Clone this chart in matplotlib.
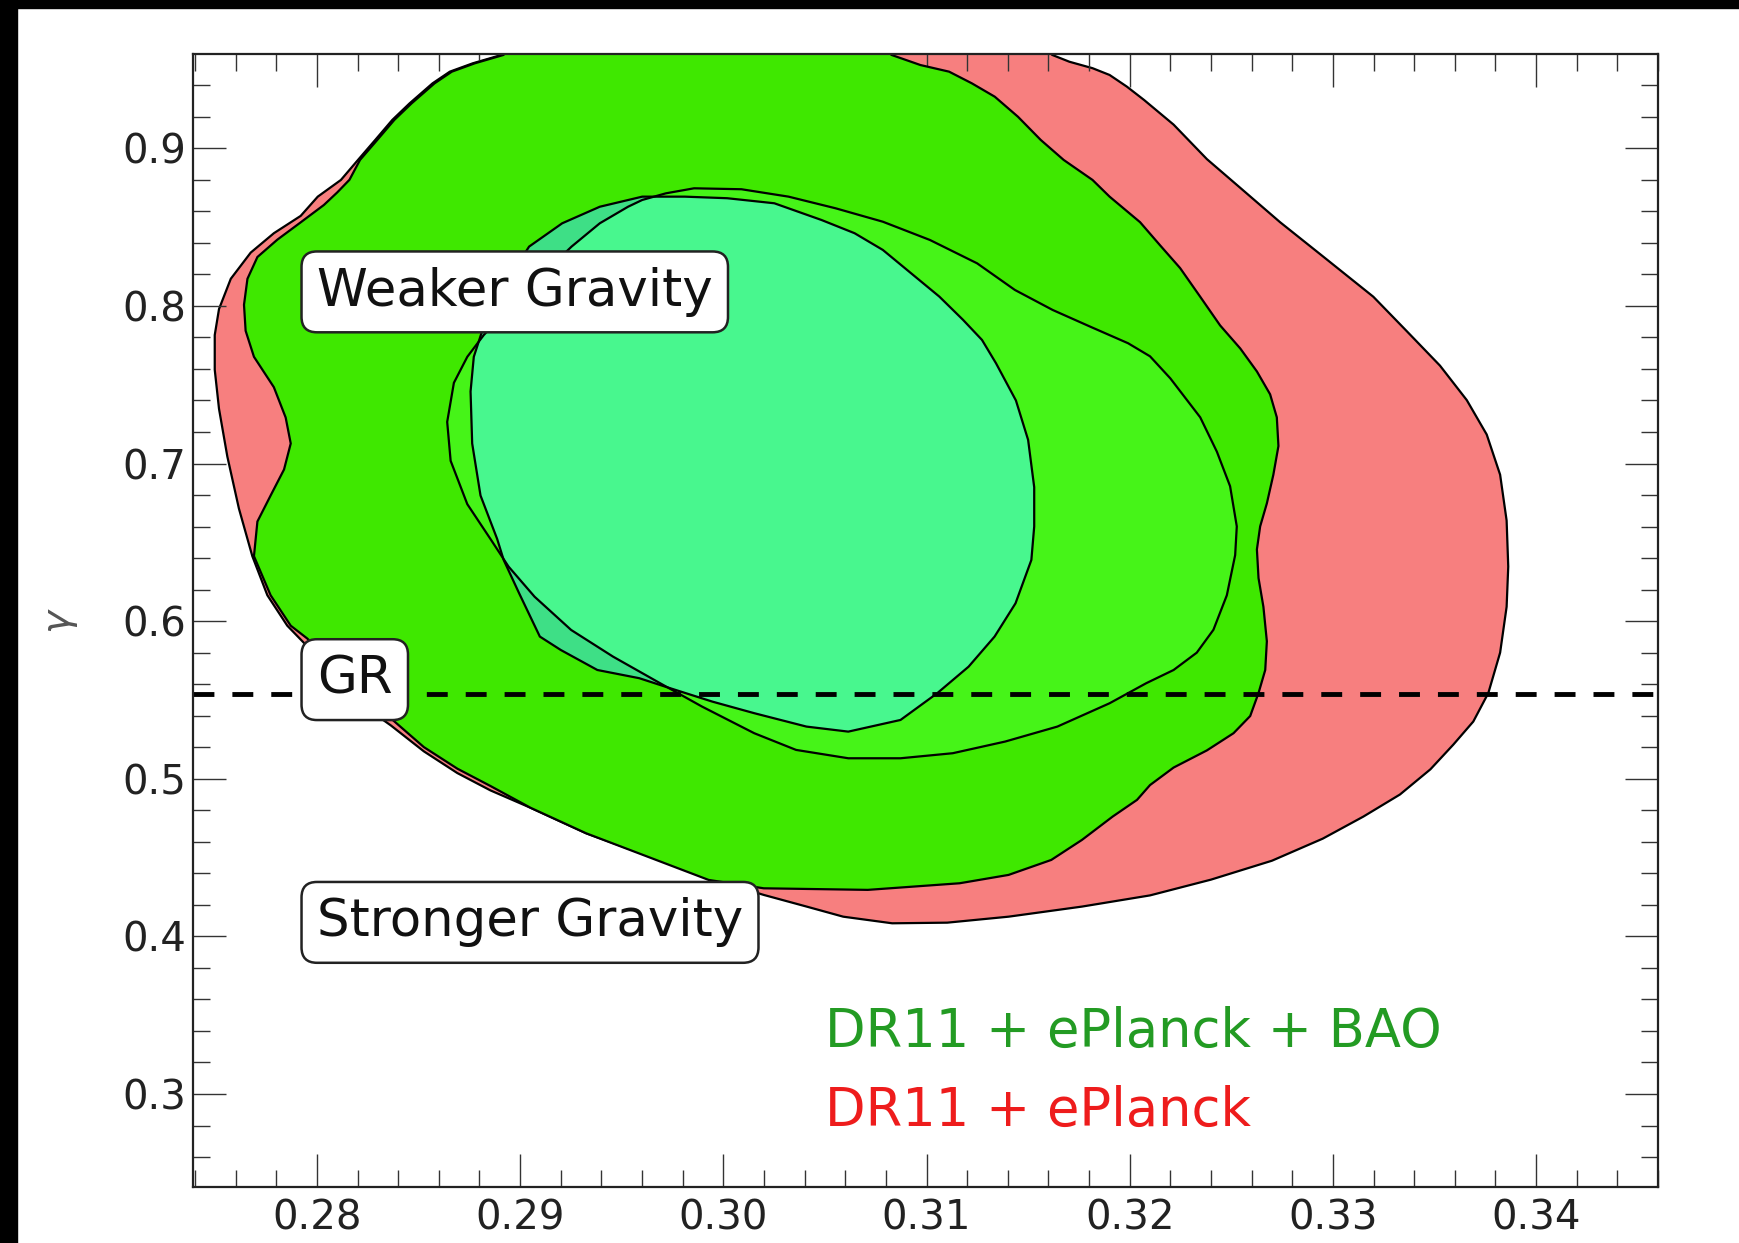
import matplotlib
matplotlib.use("Agg")
import matplotlib.pyplot as plt
from matplotlib.patches import Polygon, Rectangle
from matplotlib.ticker import MultipleLocator

# ---------------- data ----------------
# DR11 + ePlanck, 95% region (outer red)
red_outer_x = [0.2895, 0.3162, 0.31619, 0.31703, 0.31817, 0.31901, 0.31986, 0.32071, 0.32216,
               0.32380, 0.32544, 0.32740, 0.32953, 0.33199, 0.33364, 0.33527, 0.33659, 0.33757,
               0.33823, 0.33855, 0.33863, 0.33855, 0.33823, 0.33765, 0.33691, 0.33593, 0.33480,
               0.33330, 0.33150, 0.32950, 0.32700, 0.32400, 0.32100, 0.31765, 0.31404, 0.31102,
               0.30831, 0.30590, 0.30410, 0.30199, 0.29950, 0.29325, 0.29051, 0.28854, 0.28691,
               0.28526, 0.28363, 0.28273, 0.28100, 0.27936, 0.27854, 0.27756, 0.27682, 0.27616,
               0.27559, 0.27518, 0.27497, 0.27497, 0.27518, 0.27576, 0.27674, 0.27788, 0.27920,
               0.28004, 0.28118, 0.28202, 0.28287, 0.28371, 0.28456, 0.28569, 0.28654, 0.28767,
               0.28908]
red_outer_y = [0.980, 0.980, 0.9592, 0.9549, 0.9508, 0.9465, 0.9391, 0.9306, 0.9150,
               0.8931, 0.8749, 0.8531, 0.8312, 0.8058, 0.7839, 0.7621, 0.7402, 0.7184,
               0.6929, 0.6638, 0.6346, 0.6091, 0.5800, 0.5544, 0.5363, 0.5217, 0.5060,
               0.4900, 0.4760, 0.4620, 0.4480, 0.4360, 0.4260, 0.4189, 0.4125, 0.4087,
               0.4083, 0.4125, 0.4189, 0.4263, 0.4360, 0.4654, 0.4816, 0.4926, 0.5036,
               0.5174, 0.5339, 0.5421, 0.5620, 0.5862, 0.5971, 0.6164, 0.6412, 0.6714,
               0.7044, 0.7347, 0.7595, 0.7815, 0.7980, 0.8172, 0.8338, 0.8461, 0.8571,
               0.8693, 0.8799, 0.8926, 0.9053, 0.9180, 0.9285, 0.9412, 0.9486, 0.9539,
               0.9592]

# DR11 + ePlanck + BAO, 95% region (outer green)
green_outer_x = [0.2895, 0.3083, 0.30828, 0.30970, 0.31111, 0.31223, 0.31336, 0.31450, 0.31562,
                 0.31675, 0.31817, 0.31901, 0.32051, 0.32149, 0.32248, 0.32347, 0.32445, 0.32544,
                 0.32626, 0.32691, 0.32724, 0.32732, 0.32707, 0.32675, 0.32642, 0.32626, 0.32634,
                 0.32658, 0.32675, 0.32667, 0.32634, 0.32593, 0.32511, 0.32380, 0.32216, 0.32100,
                 0.32036, 0.31916, 0.31765, 0.31614, 0.31404, 0.31163, 0.30711, 0.30199, 0.29928,
                 0.29325, 0.29051, 0.28854, 0.28691, 0.28526, 0.28330, 0.28130, 0.27953, 0.27871,
                 0.27772, 0.27690, 0.27707, 0.27772, 0.27838, 0.27871, 0.27846, 0.27788, 0.27690,
                 0.27649, 0.27641, 0.27658, 0.27707, 0.27805, 0.27920, 0.28034, 0.28100, 0.28160,
                 0.28212, 0.28297, 0.28381, 0.28466, 0.28579, 0.28664, 0.28777, 0.28918]
green_outer_y = [0.980, 0.980, 0.9592, 0.9528, 0.9486, 0.9412, 0.9327, 0.9200, 0.9053,
                 0.8926, 0.8799, 0.8693, 0.8531, 0.8385, 0.8240, 0.8058, 0.7876, 0.7730,
                 0.7584, 0.7439, 0.7293, 0.7111, 0.6929, 0.6747, 0.6601, 0.6455, 0.6273,
                 0.6091, 0.5872, 0.5690, 0.5544, 0.5398, 0.5289, 0.5180, 0.5071, 0.4960,
                 0.4866, 0.4760, 0.4612, 0.4485, 0.4390, 0.4337, 0.4295, 0.4305, 0.4358,
                 0.4654, 0.4816, 0.4954, 0.5064, 0.5201, 0.5421, 0.5660, 0.5889, 0.5971,
                 0.6164, 0.6412, 0.6632, 0.6797, 0.6962, 0.7127, 0.7292, 0.7484, 0.7677,
                 0.7842, 0.8007, 0.8172, 0.8310, 0.8420, 0.8530, 0.8640, 0.8720, 0.8800,
                 0.8926, 0.9053, 0.9180, 0.9285, 0.9412, 0.9486, 0.9539, 0.9592]

# DR11 + ePlanck, 68% region (tilted inner contour)
red_inner_x = [0.29253, 0.29392, 0.29531, 0.29601, 0.29717, 0.29856, 0.30089, 0.30321, 0.30553,
               0.30785, 0.31017, 0.31249, 0.31435, 0.31621, 0.31806, 0.31992, 0.32100, 0.32200,
               0.32347, 0.32429, 0.32494, 0.32527, 0.32519, 0.32478, 0.32412, 0.32330, 0.32216,
               0.32081, 0.31901, 0.31644, 0.31387, 0.31129, 0.30872, 0.30615, 0.30358, 0.30152,
               0.29895, 0.29689, 0.29457, 0.29251, 0.29071, 0.28943, 0.28854, 0.28740, 0.28658,
               0.28641, 0.28674, 0.28740, 0.28821, 0.29030]
red_inner_y = [0.8376, 0.8524, 0.8629, 0.8672, 0.8714, 0.8746, 0.8740, 0.8693, 0.8619,
               0.8534, 0.8418, 0.8270, 0.8101, 0.7974, 0.7868, 0.7763, 0.7680, 0.7540,
               0.7293, 0.7075, 0.6856, 0.6601, 0.6419, 0.6164, 0.5945, 0.5800, 0.5690,
               0.5606, 0.5479, 0.5331, 0.5236, 0.5162, 0.5130, 0.5130, 0.5183, 0.5289,
               0.5458, 0.5606, 0.5775, 0.5944, 0.6155, 0.6346, 0.6521, 0.6742, 0.7017,
               0.7264, 0.7512, 0.7677, 0.7815, 0.8100]

# DR11 + ePlanck + BAO, 68% region (inner cyan-green)
green_inner_x = [0.29044, 0.29207, 0.29392, 0.29601, 0.29810, 0.30019, 0.30251, 0.30483, 0.30646,
                 0.30785, 0.30924, 0.31063, 0.31180, 0.31273, 0.31342, 0.31440, 0.31500, 0.31530,
                 0.31530, 0.31516, 0.31438, 0.31335, 0.31207, 0.31053, 0.30872, 0.30615, 0.30409,
                 0.30152, 0.29947, 0.29715, 0.29586, 0.29380, 0.29200, 0.29097, 0.28995, 0.28919,
                 0.28887, 0.28805, 0.28764, 0.28756, 0.28772, 0.28845, 0.28983]
green_inner_y = [0.8376, 0.8524, 0.8629, 0.8693, 0.8693, 0.8683, 0.8651, 0.8545, 0.8461,
                 0.8355, 0.8207, 0.8059, 0.7911, 0.7784, 0.7636, 0.7400, 0.7150, 0.6850,
                 0.6600, 0.6388, 0.6113, 0.5902, 0.5711, 0.5543, 0.5373, 0.5299, 0.5331,
                 0.5416, 0.5489, 0.5584, 0.5638, 0.5690, 0.5817, 0.5902, 0.6177, 0.6388,
                 0.6521, 0.6797, 0.7127, 0.7457, 0.7677, 0.7968, 0.8253]

gr_gamma = 0.554
x_ticks = [0.28, 0.29, 0.30, 0.31, 0.32, 0.33, 0.34]
x_tick_labels = ["0.28", "0.29", "0.30", "0.31", "0.32", "0.33", "0.34"]
y_ticks = [0.3, 0.4, 0.5, 0.6, 0.7, 0.8, 0.9]
y_tick_labels = ["0.3", "0.4", "0.5", "0.6", "0.7", "0.8", "0.9"]
annotations = [("Weaker Gravity", 0.28, 0.80), ("GR", 0.28, 0.554), ("Stronger Gravity", 0.28, 0.40)]
legend_entries = [("DR11 + ePlanck + BAO", 0.305, 0.33, "#239B23"),
                  ("DR11 + ePlanck", 0.305, 0.28, "#EE1C1C")]

# ---------------- figure ----------------
W, H = 1740, 1243
fig = plt.figure(figsize=(W / 100, H / 100), dpi=100, facecolor="white")
# black frame strips of the screenshot (top and left)
fig.patches.append(Rectangle((0, 1 - 8 / H), 1, 8 / H, transform=fig.transFigure,
                             color="black", zorder=10))
fig.patches.append(Rectangle((0, 0), 17 / W, 1, transform=fig.transFigure,
                             color="black", zorder=10))

ax = fig.add_axes([193 / W, 1 - 1187 / H, (1658 - 193) / W, (1187 - 54) / H])
ax.set_xlim(0.2739, 0.3460)
ax.set_ylim(0.241, 0.9598)

edge_lw = 1.6
red_fill = Polygon(list(zip(red_outer_x, red_outer_y)), closed=True,
                   facecolor="#F77F7F", edgecolor="black", lw=edge_lw, zorder=1)
ax.add_patch(red_fill)
green_fill = Polygon(list(zip(green_outer_x, green_outer_y)), closed=True,
                     facecolor="#3FE800", edgecolor="black", lw=edge_lw, zorder=2)
ax.add_patch(green_fill)
ell_fill = Polygon(list(zip(red_inner_x, red_inner_y)), closed=True,
                   facecolor="#46F418", edgecolor="none", zorder=3)
ax.add_patch(ell_fill)
cyan_dark = Polygon(list(zip(green_inner_x, green_inner_y)), closed=True,
                    facecolor="#3EDF86", edgecolor="none", zorder=4)
ax.add_patch(cyan_dark)
cyan_light = Polygon(list(zip(green_inner_x, green_inner_y)), closed=True,
                     facecolor="#48F78E", edgecolor="none", zorder=5)
ax.add_patch(cyan_light)
cyan_light.set_clip_path(ell_fill)
ax.add_patch(Polygon(list(zip(green_inner_x, green_inner_y)), closed=True,
                     facecolor="none", edgecolor="black", lw=edge_lw, zorder=6))
ax.add_patch(Polygon(list(zip(red_inner_x, red_inner_y)), closed=True,
                     facecolor="none", edgecolor="black", lw=edge_lw, zorder=6))

ax.axhline(gr_gamma, color="black", lw=3.5, dashes=(4.3, 3.7), zorder=7)

for txt, x, y in annotations:
    ax.text(x, y, txt, fontsize=37, ha="left", va="baseline", color="#111111", zorder=9,
            bbox=dict(boxstyle="round,pad=0.3", facecolor="white", edgecolor="#222222", lw=1.8))

for txt, x, y, c in legend_entries:
    ax.text(x, y, txt, fontsize=38, ha="left", va="baseline", color=c, zorder=9)

# axes styling
ax.set_xticks(x_ticks)
ax.set_xticklabels(x_tick_labels)
ax.set_yticks(y_ticks)
ax.set_yticklabels(y_tick_labels)
ax.xaxis.set_minor_locator(MultipleLocator(0.002))
ax.yaxis.set_minor_locator(MultipleLocator(0.02))
ax.tick_params(which="both", direction="in", top=True, right=True, color="#333333")
ax.tick_params(which="major", length=24, width=1.0, labelsize=29, labelcolor="#222222")
ax.tick_params(which="minor", length=12, width=1.0)
ax.tick_params(axis="x", which="major", pad=8)
ax.tick_params(axis="y", which="major", pad=5)
for s in ax.spines.values():
    s.set_linewidth(1.6)
    s.set_color("#222222")
    s.set_zorder(10)

ax.set_ylabel(r"$\gamma$", fontsize=28, color="#555555")
ax.yaxis.set_label_coords(-0.077, 0.50)

fig.savefig("out.png", dpi=100, facecolor="white")
